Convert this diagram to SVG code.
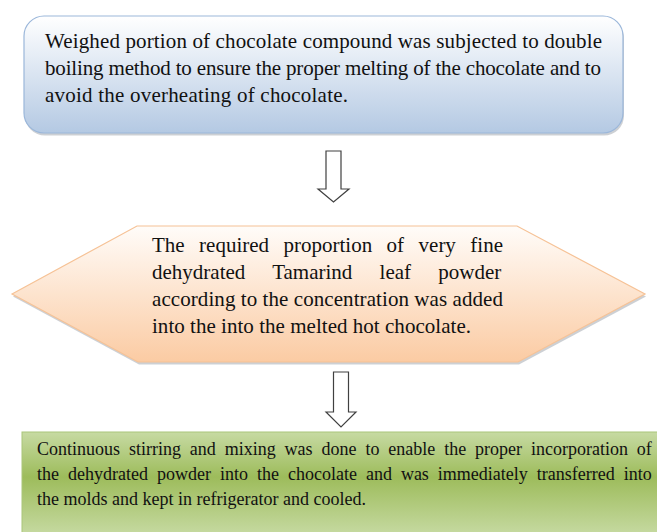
<svg xmlns="http://www.w3.org/2000/svg" width="657" height="532" viewBox="0 0 657 532">
  <style>
    text { font-family: "Liberation Serif", "Times New Roman", serif; fill: #111111; }
    .big { font-size: 21px; }
    .small { font-size: 18px; }
    .arrow { fill: #ffffff; stroke: #404040; stroke-width: 1.2; stroke-linejoin: miter; }
    .shadow { fill: #5a6470; opacity: 0.3; }
  </style>
  <defs>
    <linearGradient id="gBlue" x1="0" y1="0" x2="0" y2="1">
      <stop offset="0" stop-color="#ffffff"/>
      <stop offset="1" stop-color="#b4c9e3"/>
    </linearGradient>
    <linearGradient id="gOrange" x1="0" y1="0" x2="0" y2="1">
      <stop offset="0" stop-color="#fffcf9"/>
      <stop offset="1" stop-color="#fbcba3"/>
    </linearGradient>
    <linearGradient id="gGreen" gradientUnits="userSpaceOnUse" x1="0" y1="432" x2="0" y2="532">
      <stop offset="0" stop-color="#c7daa3"/>
      <stop offset="0.45" stop-color="#9dbc5b"/>
      <stop offset="1" stop-color="#c4d89e"/>
    </linearGradient>
  </defs>

  <g id="node-melting">
    <rect class="shadow" x="25" y="18.5" width="599" height="117" rx="20" ry="20"/>
    <rect x="24" y="16" width="599" height="117" rx="20" ry="20" fill="url(#gBlue)" stroke="#9bb7da" stroke-width="1.2"/>
    <text class="big" x="45" y="48" textLength="557" lengthAdjust="spacing">Weighed portion of chocolate compound was subjected to double</text>
    <text class="big" x="45" y="75" textLength="556" lengthAdjust="spacing">boiling method to ensure the proper melting of the chocolate and to</text>
    <text class="big" x="45" y="102" textLength="303" lengthAdjust="spacing">avoid the overheating of chocolate.</text>
  </g>

  <g id="node-powder">
    <polygon class="shadow" points="13,296.5 138,228.5 518,228.5 646,296.5 519,364.5 139,364.5"/>
    <polygon points="12,294 137,226 517,226 645,294 518,362 138,362" fill="url(#gOrange)" stroke="#f6c296" stroke-width="1.2"/>
    <text class="big" x="152" y="252" word-spacing="9.2">The required proportion of very fine</text>
    <text class="big" x="152" y="279" word-spacing="22">dehydrated Tamarind leaf powder</text>
    <text class="big" x="152" y="306" textLength="351" lengthAdjust="spacing">according to the concentration was added</text>
    <text class="big" x="152" y="333" textLength="319" lengthAdjust="spacing">into the into the melted hot chocolate.</text>
  </g>

  <g id="node-mixing">
    <rect x="22" y="432" width="650" height="120" fill="url(#gGreen)" stroke="#a9c57a" stroke-width="1"/>
    <text class="small" x="37" y="455" word-spacing="4.4">Continuous stirring and mixing was done to enable the proper incorporation of</text>
    <text class="small" x="37" y="480" word-spacing="4.5">the dehydrated powder into the chocolate and was immediately transferred into</text>
    <text class="small" x="37" y="505">the molds and kept in refrigerator and cooled.</text>
  </g>

  <g id="connectors">
    <path class="arrow" d="M326,151 L341,151 L341,189 L349,189 L333.5,202 L318,189 L326,189 Z"/>
    <path class="arrow" d="M333.5,372 L348.5,372 L348.5,412 L356,412 L341,427 L326,412 L333.5,412 Z"/>
  </g>
</svg>
